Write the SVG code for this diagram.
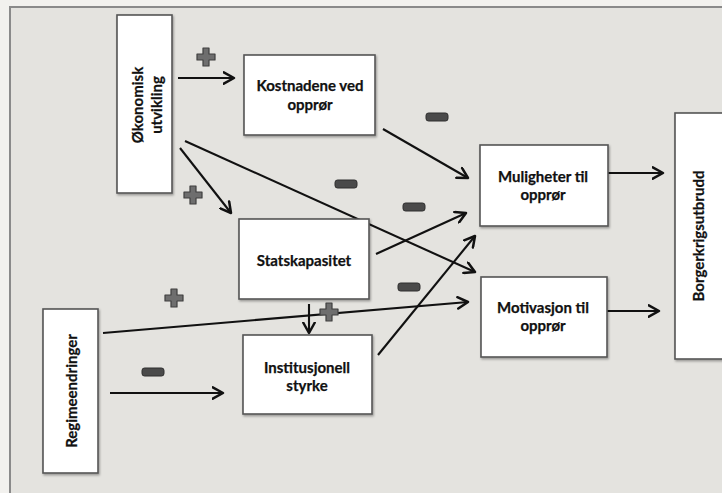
<svg xmlns="http://www.w3.org/2000/svg" width="722" height="493" viewBox="0 0 722 493">
  <defs>
    <marker id="arr" viewBox="0 0 12 12" refX="10" refY="6" markerWidth="6.5" markerHeight="6.5" orient="auto" markerUnits="strokeWidth">
      <path d="M1,1 L10,6 L1,11" fill="none" stroke="#111" stroke-width="2.2" stroke-linecap="round" stroke-linejoin="round"/>
    </marker>
    <filter id="sh" x="-10%" y="-10%" width="130%" height="130%">
      <feDropShadow dx="1" dy="1.5" stdDeviation="1" flood-color="#000" flood-opacity="0.35"/>
    </filter>
    <g id="plus">
      <path d="M-3,-9 H3 V-3 H9 V3 H3 V9 H-3 V3 H-9 V-3 H-3 Z" fill="#6e6e6e" stroke="#3f3f3f" stroke-width="1.2" stroke-linejoin="round"/>
    </g>
    <g id="minus">
      <rect x="-11" y="-4" width="22" height="8" rx="2.5" fill="#4a4a4a" stroke="#2e2e2e" stroke-width="1"/>
    </g>
  </defs>
  <style>
    .box { fill: #ffffff; stroke: #555555; stroke-width: 1.6; filter: url(#sh); }
    .lbl { font-family: Lato, "Open Sans", "Liberation Sans", sans-serif; font-weight: bold; font-size: 15px; fill: #111; text-anchor: middle; stroke: #111; stroke-width: 0.25; }
    .con { stroke: #111; stroke-width: 2.1; fill: none; marker-end: url(#arr); }
  </style>
  <rect x="0" y="0" width="722" height="493" fill="#f2f1ee"/>
  <rect x="10" y="7" width="720" height="500" fill="#e4e3df" stroke="#8a8a8a" stroke-width="2"/>

  <g id="connectors">
    <line class="con" x1="178" y1="78" x2="234" y2="78"/>
    <line class="con" x1="180" y1="148" x2="231" y2="213"/>
    <line class="con" x1="185" y1="141" x2="475" y2="272"/>
    <line class="con" x1="383" y1="129" x2="468" y2="178"/>
    <line class="con" x1="376" y1="254" x2="466" y2="213"/>
    <line class="con" x1="378" y1="355" x2="475" y2="236"/>
    <line class="con" x1="309" y1="304" x2="309" y2="333"/>
    <line class="con" x1="103" y1="333" x2="468" y2="302"/>
    <line class="con" x1="110" y1="393" x2="223" y2="393"/>
    <line class="con" x1="608" y1="173" x2="663" y2="173"/>
    <line class="con" x1="604" y1="311" x2="659" y2="311"/>
  </g>

  <g id="signs">
    <use href="#plus" x="206" y="57"/>
    <use href="#plus" x="193" y="195"/>
    <use href="#plus" x="174" y="298"/>
    <use href="#plus" x="329" y="312"/>
    <use href="#minus" x="437" y="117"/>
    <use href="#minus" x="346" y="184"/>
    <use href="#minus" x="414" y="207"/>
    <use href="#minus" x="409" y="287"/>
    <use href="#minus" x="153" y="372"/>
  </g>

  <g id="okonomisk">
    <rect class="box" x="117" y="15" width="55" height="178"/>
    <text class="lbl" transform="translate(145,105) rotate(-90)"><tspan x="0" y="-2">Økonomisk</tspan><tspan x="0" y="17">utvikling</tspan></text>
  </g>
  <g id="kostnadene">
    <rect class="box" x="244" y="55" width="131" height="80"/>
    <text class="lbl"><tspan x="310" y="91">Kostnadene ved</tspan><tspan x="310" y="110">opprør</tspan></text>
  </g>
  <g id="statskapasitet">
    <rect class="box" x="239" y="219" width="130" height="80"/>
    <text class="lbl" x="304" y="266">Statskapasitet</text>
  </g>
  <g id="institusjonell">
    <rect class="box" x="243" y="335" width="129" height="79"/>
    <text class="lbl"><tspan x="307" y="373">Institusjonell</tspan><tspan x="307" y="391">styrke</tspan></text>
  </g>
  <g id="regime">
    <rect class="box" x="43" y="309" width="55" height="164"/>
    <text class="lbl" transform="translate(70,391) rotate(-90)" x="0" y="7">Regimeendringer</text>
  </g>
  <g id="muligheter">
    <rect class="box" x="480" y="145" width="128" height="81"/>
    <text class="lbl"><tspan x="543" y="182">Muligheter til</tspan><tspan x="543" y="200">opprør</tspan></text>
  </g>
  <g id="motivasjon">
    <rect class="box" x="481" y="277" width="126" height="80"/>
    <text class="lbl"><tspan x="543" y="313">Motivasjon til</tspan><tspan x="543" y="331">opprør</tspan></text>
  </g>
  <g id="borger">
    <rect class="box" x="675" y="113" width="60" height="246"/>
    <text class="lbl" transform="translate(698,236) rotate(-90)" x="0" y="6">Borgerkrigsutbrudd</text>
  </g>
</svg>
